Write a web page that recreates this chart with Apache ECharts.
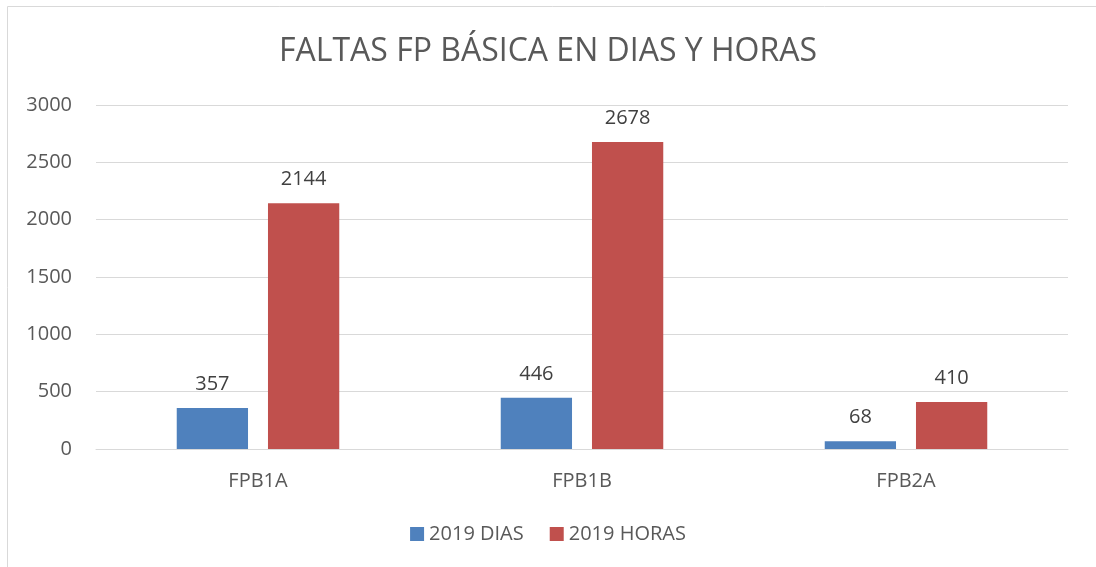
<!DOCTYPE html>
<html>
<head>
<meta charset="utf-8">
<script src="https://cdn.jsdelivr.net/npm/echarts@6/dist/echarts.min.js"></script>
<style>
  html, body { margin: 0; padding: 0; background: #fff; }
  #myChart { width: 1096px; height: 567px; }
</style>
</head>
<body>
<div id="myChart"></div>
<script>
const categories = ["FPB1A", "FPB1B", "FPB2A"];
const dias = [357, 446, 68];
const horas = [2144, 2678, 410];
const seriesNames = ["2019 DIAS", "2019 HORAS"];

const font = "Open Sans";
const myChart = echarts.init(document.getElementById("myChart"));

const labelStyle = {
  show: true,
  position: "top",
  distance: 14,
  fontFamily: font,
  fontSize: 20,
  color: "#404040"
};

const option = {
  animation: false,
  textStyle: { fontFamily: font },
  graphic: [{
    type: "rect",
    shape: { x: 7.5, y: 6.5, width: 1200, height: 700 },
    style: { fill: "none", stroke: "#d9d9d9", lineWidth: 1 },
    silent: true
  }],
  title: {
    text: "FALTAS FP BÁSICA EN DIAS Y HORAS",
    left: "center",
    top: 31,
    textStyle: { fontFamily: font, fontSize: 32, fontWeight: "normal", color: "#595959" }
  },
  legend: {
    bottom: 18,
    left: "center",
    itemWidth: 14,
    itemHeight: 14,
    itemGap: 26,
    icon: "rect",
    textStyle: { fontFamily: font, fontSize: 20, color: "#595959" },
    data: seriesNames
  },
  grid: { left: 96, right: 28, top: 105, bottom: 118 },
  xAxis: {
    type: "category",
    data: categories,
    axisLine: { lineStyle: { color: "#d9d9d9", width: 1 } },
    axisTick: { show: false },
    axisLabel: { fontFamily: font, fontSize: 20, color: "#595959", margin: 22 }
  },
  yAxis: {
    type: "value",
    min: 0,
    max: 3000,
    interval: 500,
    axisLine: { show: false },
    axisTick: { show: false },
    splitLine: { lineStyle: { color: "#d9d9d9", width: 1 } },
    axisLabel: {
      fontFamily: font, fontSize: 20, color: "#595959", margin: 24,
      formatter: function(v) { return String(v); }
    }
  },
  series: [
    {
      name: seriesNames[0],
      type: "bar",
      data: dias,
      barWidth: "22%",
      barGap: "28%",
      itemStyle: { color: "#4f81bd" },
      label: labelStyle
    },
    {
      name: seriesNames[1],
      type: "bar",
      data: horas,
      barWidth: "22%",
      itemStyle: { color: "#c0504d" },
      label: labelStyle
    }
  ]
};

myChart.setOption(option);
</script>
</body>
</html>
